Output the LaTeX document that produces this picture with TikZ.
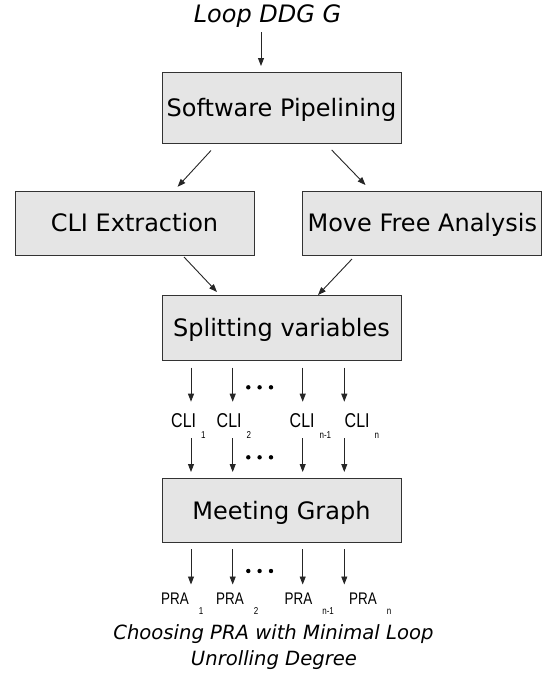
\documentclass[tikz,border=0pt]{standalone}
\usepackage{fontspec}
\setmainfont{DejaVu Sans}
\newfontfamily\narrowsans[FakeStretch=0.8]{Liberation Sans}
\usetikzlibrary{arrows.meta}
\newcommand\mysubC[1]{\hspace{5pt}\raisebox{-11pt}{\fontsize{10}{11}\selectfont #1}}
\newcommand\mysubP[1]{\hspace{10pt}\raisebox{-10.5pt}{\fontsize{10}{11}\selectfont #1}}
\begin{document}
\begin{tikzpicture}[x=1pt,y=-1pt,
  box/.style={draw=black!80, line width=1pt, fill=black!10, minimum width=239pt, inner sep=0pt,
    text height=17.5pt, text depth=0pt, font=\fontsize{24}{28}\selectfont},
  arr/.style={draw=black!85, line width=0.9pt, -{Triangle[length=8pt,width=6pt]}},
  clilab/.style={anchor=base west, inner sep=0pt, font=\narrowsans\fontsize{20}{22}\selectfont},
  pralab/.style={anchor=base west, inner sep=0pt, font=\narrowsans\fontsize{16.8}{19}\selectfont},
  ital/.style={anchor=base, inner sep=0pt, font=\itshape\fontsize{24}{28}\selectfont},
  capt/.style={anchor=base, inner sep=0pt, font=\itshape\fontsize{19.6}{26}\selectfont}
]
\useasboundingbox (0,0) rectangle (551,673);

% title
\node[ital] (title) at (267.5,22) {Loop DDG G};

% boxes
\node[box, minimum height=71pt] (sp) at (281.5,107.5) {Software Pipelining};
\node[box, minimum height=64pt] (cli) at (134.5,223) {CLI Extraction};
\node[box, minimum height=64pt, minimum width=238.7pt] (mfa) at (422.3,223) {Move Free Analysis};
\node[box, minimum height=65pt] (spl) at (281.5,328) {Splitting variables};
\node[box, minimum height=64pt] (mg) at (281.5,510.6) {Meeting Graph};

% CLI labels
\node[clilab] (c1) at (171,427.5) {CLI\mysubC{1}};
\node[clilab] (c2) at (216.5,427.5) {CLI\mysubC{2}};
\node[clilab] (c3) at (289.5,427.5) {CLI\mysubC{n-1}};
\node[clilab] (c4) at (344.5,427.5) {CLI\mysubC{n}};

% PRA labels
\node[pralab] (p1) at (161,604) {PRA\mysubP{1}};
\node[pralab] (p2) at (216,604) {PRA\mysubP{2}};
\node[pralab] (p3) at (284.5,604) {PRA\mysubP{n-1}};
\node[pralab] (p4) at (349,604) {PRA\mysubP{n}};

% caption
\node[capt] (cap1) at (273.4,639) {Choosing PRA with Minimal Loop};
\node[capt] (cap2) at (274,665) {Unrolling Degree};

% connector end points
\coordinate (t0) at (261,32);   \coordinate (t1) at (261,66);
\coordinate (a1s) at (211,150.5); \coordinate (a1e) at (177.6,186.8);
\coordinate (a2s) at (331.7,150); \coordinate (a2e) at (365.5,185);
\coordinate (a3s) at (184,257);   \coordinate (a3e) at (217,292);
\coordinate (a4s) at (352,259);   \coordinate (a4e) at (318,295);

\draw[arr] (t0) -- (t1);
\draw[arr] (a1s) -- (a1e);
\draw[arr] (a2s) -- (a2e);
\draw[arr] (a3s) -- (a3e);
\draw[arr] (a4s) -- (a4e);

\foreach \i/\xx in {1/191,2/232.7,3/302.7,4/344.3}{
  \coordinate (ra\i) at (\xx,367.7); \coordinate (rb\i) at (\xx,401.7);
  \coordinate (rc\i) at (\xx,438);   \coordinate (rd\i) at (\xx,472);
  \coordinate (re\i) at (\xx,549);   \coordinate (rf\i) at (\xx,584.5);
  \draw[arr] (ra\i) -- (rb\i);
  \draw[arr] (rc\i) -- (rd\i);
  \draw[arr] (re\i) -- (rf\i);
}

% ellipsis dots
\foreach \yy in {387.3,457.3,571}{
  \foreach \xx in {248.3,259.6,271}{
    \fill[black] (\xx,\yy) circle (2.2pt);
  }
}
\end{tikzpicture}
\end{document}
